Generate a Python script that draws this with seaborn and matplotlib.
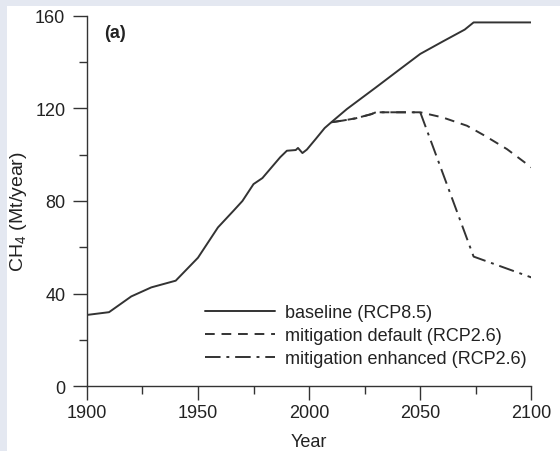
import matplotlib
matplotlib.use("Agg")
import matplotlib.pyplot as plt
import matplotlib.patches as mpatches
from matplotlib.ticker import MultipleLocator
import seaborn as sns
import pandas as pd

# ---- data ----
years_base = [1900, 1910, 1920, 1929, 1940, 1950, 1959, 1966, 1970, 1975, 1979, 1987,
              1990, 1994, 1995, 1997, 1999, 2003, 2007, 2010, 2017, 2030, 2041, 2050,
              2060, 2070, 2074, 2100]
ch4_base = [30.8, 32.0, 38.8, 42.7, 45.6, 55.5, 68.6, 75.8, 80.0, 87.3, 89.9, 98.9,
            101.7, 102.0, 102.9, 100.7, 102.2, 106.8, 111.5, 114.0, 119.7, 129.0, 137.0, 143.5,
            148.8, 154.0, 157.1, 157.1]

years_def = [2010, 2015, 2021, 2028, 2030, 2050, 2060, 2071, 2079, 2089, 2100]
ch4_def = [114.0, 114.7, 115.7, 117.5, 118.3, 118.3, 116.1, 112.5, 108.2, 102.4, 94.5]

years_enh = [2010, 2015, 2021, 2028, 2030, 2050, 2074, 2100]
ch4_enh = [114.0, 114.7, 115.7, 117.5, 118.3, 118.3, 56.0, 47.0]

labels = ["baseline (RCP8.5)", "mitigation default (RCP2.6)", "mitigation enhanced (RCP2.6)"]
xticks = [1900, 1950, 2000, 2050, 2100]
yticks = [0, 40, 80, 120, 160]

# ---- style ----
sns.set_theme(style="ticks")
plt.rcParams["font.family"] = ["Liberation Sans", "DejaVu Sans"]
plt.rcParams["mathtext.default"] = "regular"
FS = 13
LC = "#333333"
TC = "#222222"

fig = plt.figure(figsize=(5.6, 4.52), dpi=100, facecolor="#e4e8f1")
fig.patches.append(mpatches.Rectangle((7 / 560, 0), 1, 1 - 7 / 452, transform=fig.transFigure,
                                      facecolor="white", edgecolor="none", zorder=-10))
ax = fig.add_axes([86.8 / 560, 1 - 387.3 / 452, (531.4 - 86.8) / 560, (387.3 - 16.7) / 452])
ax.set_zorder(5)
ax.set_facecolor("none")

sns.lineplot(x=years_base, y=ch4_base, ax=ax, color=LC, lw=1.4, label=labels[0])
sns.lineplot(x=years_def, y=ch4_def, ax=ax, color=LC, lw=1.4, label=labels[1],
             linestyle=(0, (5, 3.5)))
sns.lineplot(x=years_enh, y=ch4_enh, ax=ax, color=LC, lw=1.4, label=labels[2],
             linestyle=(0, (8, 3, 1.5, 3)))

ax.set_xlim(1900, 2100)
ax.set_ylim(0, 160)
ax.set_xticks(xticks)
ax.set_yticks(yticks)
ax.xaxis.set_minor_locator(MultipleLocator(25))
ax.yaxis.set_minor_locator(MultipleLocator(20))
for s in ["top", "right"]:
    ax.spines[s].set_visible(False)
for s in ["left", "bottom"]:
    ax.spines[s].set_color(LC)
    ax.spines[s].set_linewidth(1.0)
ax.tick_params(which="major", length=10, width=1.0, color=LC, labelsize=FS, labelcolor=TC)
ax.tick_params(which="minor", length=5.5, width=1.0, color=LC)
ax.tick_params(axis="x", which="major", pad=3)
ax.tick_params(axis="y", which="major", pad=5.5)

ax.set_xlabel("Year", fontsize=FS, color=TC)
ax.set_ylabel("CH$_4$ (Mt/year)", fontsize=14, color=TC)
ax.xaxis.set_label_coords(0.5, -0.126)
ax.yaxis.set_label_coords(-0.130, 0.475)

ax.text(0.038, 0.955, "(a)", transform=ax.transAxes, fontsize=FS, fontweight="bold",
        color=TC, va="center", ha="left")

leg = ax.legend(loc="upper left", bbox_to_anchor=(0.266, 0.222), frameon=False,
                fontsize=FS, handlelength=3.9, handletextpad=0.5, borderpad=0,
                borderaxespad=0, labelspacing=0.33)
for t in leg.get_texts():
    t.set_color(TC)

fig.savefig("out.png", dpi=100, facecolor=fig.get_facecolor())
